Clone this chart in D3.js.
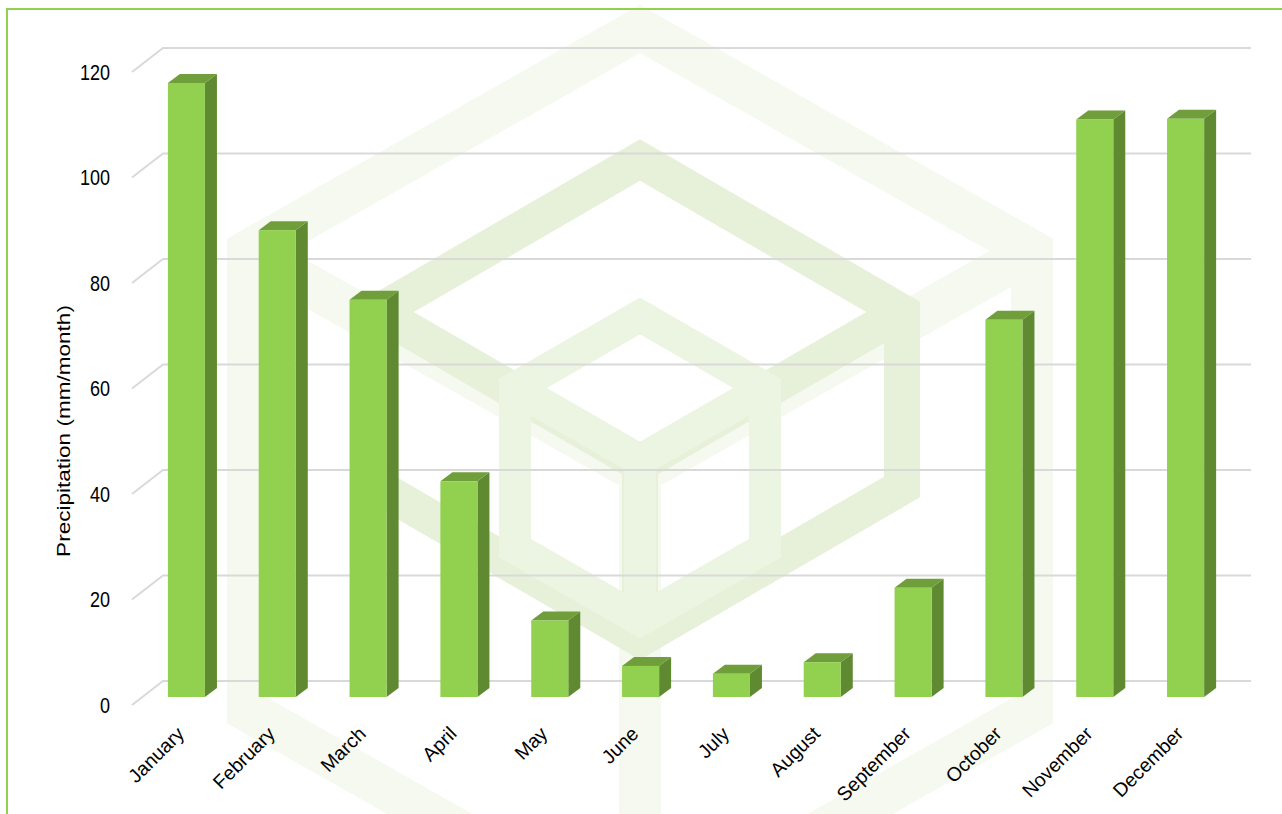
<!DOCTYPE html>
<html>
<head>
<meta charset="utf-8">
<script src="https://cdn.jsdelivr.net/npm/d3@7"></script>
<style>
html,body{margin:0;padding:0;background:#fff;}
svg{display:block;}
text{font-family:"Liberation Sans",Arial,sans-serif;fill:#000;}
</style>
</head>
<body>
<svg id="chart" width="1282" height="814"></svg>
<script>
const months = ["January","February","March","April","May","June","July","August","September","October","November","December"];
const precipitation = [116.4, 88.5, 75.3, 40.9, 14.5, 5.9, 4.4, 6.6, 20.7, 71.5, 109.5, 109.6];
const yTicks = [0, 20, 40, 60, 80, 100, 120];
const yLabel = "Precipitation (mm/month)";

const svg = d3.select("#chart");
const W = 1282, H = 814;

// watermark: nested isometric cubes (decorative)
const wm = svg.append("g");
function cube(cx, top, a, b, h, sw, color) {
  const T=[cx,top], L=[cx-a,top+b], R=[cx+a,top+b], C=[cx,top+2*b];
  const LL=[cx-a,top+b+h], RR=[cx+a,top+b+h], B=[cx,top+2*b+h];
  const line = d3.line();
  const paths = [[T,R,RR,B,LL,L,T],[L,C,R],[C,B]];
  paths.forEach(p => wm.append("path").attr("d", line(p)+(p.length>3?"Z":""))
    .attr("fill","none").attr("stroke",color).attr("stroke-width",sw).attr("stroke-linejoin","miter"));
}
cube(640, 29, 392, 222, 460, 42, "#f5f9ef");
cube(640, 160, 262, 152, 175, 36, "#e7f1da");
cube(640, 316, 125, 72, 160, 32, "#ecf4e2");

// border
svg.append("line").attr("x1",7).attr("y1",9).attr("x2",W).attr("y2",9).attr("stroke","#92d050").attr("stroke-width",2);
svg.append("line").attr("x1",7).attr("y1",8).attr("x2",7).attr("y2",H).attr("stroke","#92d050").attr("stroke-width",2);

// scales
const y = d3.scaleLinear().domain([0,120]).range([681, 48]);   // back wall
const x = d3.scaleBand().domain(months).range([141, 1231]).paddingInner(0.592).paddingOuter(0.296);
const floorDY = 24;                 // front-to-back depth of plot floor
const barFrontOffset = 16;          // bar front plane is below the back wall
const dx = 12, dy = 9;              // bar depth

// gridlines
const grid = svg.append("g");
yTicks.forEach(t => {
  const yb = y(t);
  grid.append("path")
    .attr("d", `M132,${yb+floorDY} L163,${yb} L1251,${yb}`)
    .attr("fill","none").attr("stroke","#d9d9d9").attr("stroke-width",2);
});

// y tick labels
const axis = svg.append("g");
yTicks.forEach(t => {
  axis.append("text").attr("transform",`translate(110,${y(t)+floorDY+2}) scale(1,1.2)`)
    .attr("text-anchor","end").attr("dominant-baseline","middle")
    .style("font-size","18px").text(t);
});

// y label
svg.append("text").attr("transform","translate(70,431) scale(1,1.2) rotate(-90)")
  .attr("text-anchor","middle").style("font-size","18.8px").text(yLabel);

// bars
const bars = svg.append("g");
months.forEach((m,i) => {
  const v = precipitation[i];
  const x0 = x(m), w = x.bandwidth();
  const yb = y(0) + barFrontOffset, yt = y(v) + barFrontOffset;
  bars.append("path").attr("d",`M${x0+w},${yt} L${x0+w+dx},${yt-dy} L${x0+w+dx},${yb-dy} L${x0+w},${yb} Z`)
    .attr("fill","#5f8a31");
  bars.append("path").attr("d",`M${x0},${yt} L${x0+dx},${yt-dy} L${x0+w+dx},${yt-dy} L${x0+w},${yt} Z`)
    .attr("fill","#6f9e3b");
  bars.append("rect").attr("x",x0).attr("y",yt).attr("width",w).attr("height",yb-yt)
    .attr("fill","#92d050");
});

// month labels
const lab = svg.append("g");
months.forEach(m => {
  const cx = x(m) + x.bandwidth()/2;
  lab.append("text").attr("transform",`translate(${cx-1},735) rotate(-45)`)
    .attr("text-anchor","end").style("font-size","19.5px").text(m);
});
</script>
</body>
</html>
